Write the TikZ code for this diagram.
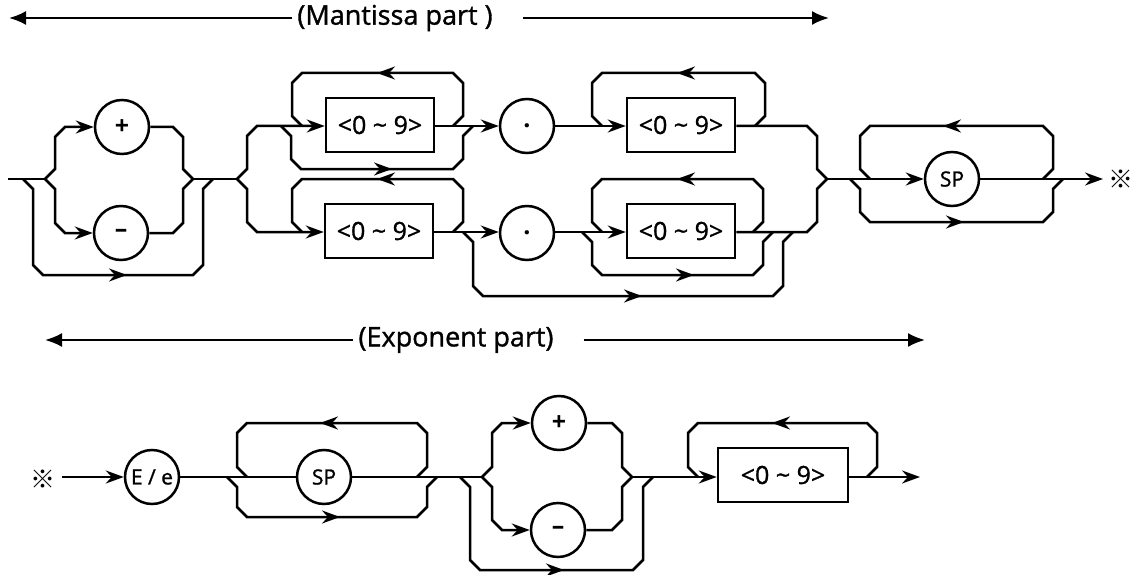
\documentclass[tikz,border=0pt]{standalone}
\usepackage{fontspec}
\setmainfont{Open Sans}
\newfontfamily\dfont{Open Sans}[FakeBold=1.2]
\newfontfamily\cjkfont{Noto Sans CJK JP}
\usetikzlibrary{arrows.meta}
\newcommand\tipR[2]{\draw[rr,tipst] (#1-20,#2) -- (#1,#2);}
\newcommand\tipL[2]{\draw[rr,tipst] (#1+20,#2) -- (#1,#2);}
\begin{document}
\begin{tikzpicture}[x=1pt,y=-1pt,
  rr/.style={line width=2.5pt},
  tipst/.style={-{Stealth[length=18pt,width=13pt,inset=6pt]}},
  boxn/.style={draw,rr,minimum width=108pt,minimum height=54pt,inner sep=0pt,font=\dfont\fontsize{25}{30}\selectfont},
  circn/.style={draw,rr,circle,minimum size=54pt,inner sep=0pt},
  symb/.style={font=\bfseries\fontsize{25}{28}\selectfont},
  lbl/.style={font=\dfont\fontsize{21}{24}\selectfont},
  refm/.style={font=\cjkfont\fontsize{25}{28}\selectfont,inner sep=0pt},
  ttl/.style={font=\dfont\fontsize{27}{30}\selectfont,inner sep=0pt},
  ttlline/.style={line width=2.2pt,-{Latex[length=17pt,width=14pt]}},
]
\useasboundingbox (0,0) rectangle (1135,575);

% ---------- titles ----------
\node[ttl] (mt) at (395,18) {(Mantissa part )};
\coordinate (mtl) at (9,18);
\coordinate (mtr) at (829,18);
\draw[ttlline] ([xshift=-5pt]mt.west) -- (mtl);
\draw[ttlline] ([xshift=30pt]mt.east) -- (mtr);

\node[ttl] (et) at (456,340) {(Exponent part)};
\coordinate (etl) at (45,340);
\coordinate (etr) at (925,340);
\draw[ttlline] ([xshift=-5pt]et.west) -- (etl);
\draw[ttlline] ([xshift=30pt]et.east) -- (etr);

% ---------- mantissa nodes ----------
\node[circn,symb] (p1) at (122,127) {+};
\node[circn,symb] (m1) at (121,233) {–};
\node[boxn] (b1) at (380,125) {<0 \textasciitilde{} 9>};
\node[circn,symb] (d1) at (527,126) {.};
\node[boxn] (b3) at (681,125) {<0 \textasciitilde{} 9>};
\node[boxn] (b2) at (379,231) {<0 \textasciitilde{} 9>};
\node[circn,symb] (d2) at (527,233) {.};
\node[boxn] (b4) at (681,231) {<0 \textasciitilde{} 9>};
\node[circn,lbl] (sp1) at (952,179) {SP};
\node[refm] (rm1) at (1121,179) {※};

\coordinate (st) at (8,179);
\coordinate (s1) at (45,179);
\coordinate (j1) at (193,179);
\coordinate (s2) at (237,179);
\coordinate (j2) at (827,179);
\coordinate (endm) at (1103,179);

% main line
\draw[rr] (st) -- (s1);
\draw[rr] (j1) -- (s2);
\draw[rr,tipst] (j2) -- (sp1.west);
\draw[rr,tipst] (sp1.east) -- (endm);

% sign group
\draw[rr,tipst] (s1) -- (55,169) -- (55,137) -- (65,127) -- (p1.west);
\draw[rr,tipst] (s1) -- (55,189) -- (55,223) -- (65,233) -- (m1.west);
\draw[rr] (p1.east) -- (173,127) -- (183,137) -- (183,169) -- (j1);
\draw[rr] (m1.east) -- (173,233) -- (183,223) -- (183,189) -- (j1);
\draw[rr] (23,179) -- (33,189) -- (33,265) -- (43,275) -- (193,275) -- (203,265) -- (203,189) -- (213,179);
\tipR{127}{275}

% big group, upper path
\draw[rr,tipst] (s2) -- (247,169) -- (247,136) -- (257,126) -- (b1.west |- 0,126);
\draw[rr,tipst] (b1.east |- 0,126) -- (d1.west);
\draw[rr,tipst] (d1.east) -- (b3.west |- 0,126);
\draw[rr] (b3.east |- 0,126) -- (807,126) -- (817,136) -- (817,169) -- (j2);
\draw[rr] (453,126) -- (463,116) -- (463,83) -- (453,73) -- (302,73) -- (292,83) -- (292,116) -- (302,126);
\tipL{377}{73}
\draw[rr] (281,126) -- (291,136) -- (291,159) -- (301,169) -- (453,169) -- (463,159) -- (463,136) -- (473,126);
\tipR{392}{169}
\draw[rr] (755,126) -- (765,116) -- (765,83) -- (755,73) -- (602,73) -- (592,83) -- (592,116) -- (602,126);
\tipL{677}{73}

% big group, lower path
\draw[rr,tipst] (s2) -- (247,189) -- (247,222) -- (257,232) -- (b2.west |- 0,232);
\draw[rr,tipst] (b2.east |- 0,232) -- (d2.west |- 0,232);
\draw[rr,tipst] (d2.east |- 0,232) -- (b4.west |- 0,232);
\draw[rr] (b4.east |- 0,232) -- (807,232) -- (817,222) -- (817,189) -- (j2);
\draw[rr] (453,232) -- (463,222) -- (463,189) -- (453,179) -- (302,179) -- (292,189) -- (292,222) -- (302,232);
\tipL{377}{179}
\draw[rr] (753,232) -- (763,222) -- (763,189) -- (753,179) -- (602,179) -- (592,189) -- (592,222) -- (602,232);
\tipL{677}{179}
\draw[rr] (582,232) -- (592,242) -- (592,265) -- (602,275) -- (753,275) -- (763,265) -- (763,242) -- (773,232);
\tipR{694}{275}
\draw[rr] (463,232) -- (473,242) -- (473,286) -- (483,296) -- (773,296) -- (783,286) -- (783,242) -- (793,232);
\tipR{642}{296}

% SP group
\draw[rr] (1043,179) -- (1053,169) -- (1053,136) -- (1043,126) -- (870,126) -- (860,136) -- (860,169) -- (870,179);
\tipL{943}{126}
\draw[rr] (850,179) -- (860,189) -- (860,212) -- (870,222) -- (1043,222) -- (1053,212) -- (1053,189) -- (1063,179);
\tipR{964}{222}

% ---------- exponent ----------
\node[refm] (rm2) at (43,479) {※};
\coordinate (e0) at (62,477);
\node[circn,lbl] (ee) at (152,477) {E / e};
\node[circn,lbl] (sp2) at (324,477) {SP};
\node[circn,symb] (p2) at (559,423) {+};
\node[circn,symb] (m2) at (558,530) {–};
\node[boxn,minimum width=130pt] (b5) at (783,475) {<0 \textasciitilde{} 9>};
\coordinate (s3) at (482,477);
\coordinate (j3) at (632,477);
\coordinate (e9) at (920,477);

\draw[rr,tipst] (e0) -- (ee.west);
\draw[rr] (ee.east) -- (sp2.west);
\draw[rr] (sp2.east) -- (s3);
\draw[rr] (417,477) -- (427,467) -- (427,433) -- (417,423) -- (247,423) -- (237,433) -- (237,467) -- (247,477);
\tipL{320}{423}
\draw[rr] (227,477) -- (237,487) -- (237,507) -- (247,517) -- (417,517) -- (427,507) -- (427,487) -- (437,477);
\tipR{340}{517}

\draw[rr,tipst] (s3) -- (492,467) -- (492,433) -- (502,423) -- (p2.west);
\draw[rr,tipst] (s3) -- (492,487) -- (492,520) -- (502,530) -- (m2.west);
\draw[rr] (p2.east) -- (612,423) -- (622,433) -- (622,467) -- (j3);
\draw[rr] (m2.east) -- (612,530) -- (622,520) -- (622,487) -- (j3);
\draw[rr] (460,477) -- (470,487) -- (470,560) -- (480,570) -- (633,570) -- (643,560) -- (643,487) -- (653,477);
\tipR{564}{570}

\draw[rr,tipst] (j3) -- (b5.west |- 0,477);
\draw[rr] (867,477) -- (877,467) -- (877,433) -- (867,423) -- (698,423) -- (688,433) -- (688,467) -- (698,477);
\tipL{772}{423}
\draw[rr,tipst] (b5.east |- 0,477) -- (e9);
\end{tikzpicture}
\end{document}
